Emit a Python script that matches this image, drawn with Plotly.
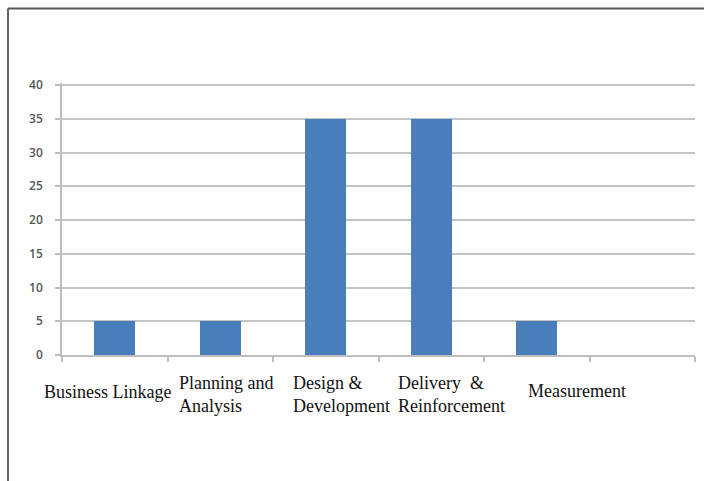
import plotly.graph_objects as go

categories = ["Business Linkage", "Planning and Analysis", "Design & Development",
              "Delivery & Reinforcement", "Measurement", " "]
values = [5, 5, 35, 35, 5]
label_texts = ["Business Linkage", "Planning and<br>Analysis", "Design &amp;<br>Development",
               "Delivery  &amp;<br>Reinforcement", "Measurement"]
label_xshifts = [-73, -43, -35, -35, -11]
label_yshifts = [-25, -16, -16, -16, -24]
y_ticks = [0, 5, 10, 15, 20, 25, 30, 35, 40]

W, H = 704, 481
L, R, T, B = 62, 9, 83, 126

fig = go.Figure()
fig.add_trace(go.Bar(x=categories[:5], y=values, marker=dict(color="#4a7ebb", line=dict(width=0)),
                     width=0.39))

for cat, txt, sx, sy in zip(categories, label_texts, label_xshifts, label_yshifts):
    fig.add_annotation(x=cat, y=0, xref="x", yref="y", text=txt, showarrow=False,
                       xanchor="left", yanchor="top", align="left", xshift=sx, yshift=sy,
                       font=dict(family="Liberation Serif", size=18, color="#111"))

pw, ph = W - L - R, H - T - B
bx = (8 - L) / pw
ty = 1 + (T - 8.5) / ph
fig.add_shape(type="line", xref="paper", yref="paper", x0=bx, x1=(W + 5 - L) / pw, y0=ty, y1=ty,
              line=dict(color="#555", width=1.8))
fig.add_shape(type="line", xref="paper", yref="paper", x0=bx, x1=bx, y0=ty, y1=-(B + 5) / ph,
              line=dict(color="#555", width=1.8))

fig.update_layout(
    width=W, height=H, margin=dict(l=L, r=R, t=T, b=B),
    paper_bgcolor="white", plot_bgcolor="white", showlegend=False, bargap=0,
    xaxis=dict(type="category", categoryorder="array", categoryarray=categories,
               range=[-0.5, 5.5], showticklabels=False, tickson="boundaries",
               ticks="outside", ticklen=5, tickcolor="#bdbdbd", tickwidth=1.5,
               showgrid=False, showline=True, linecolor="#bdbdbd", linewidth=1.5, zeroline=False),
    yaxis=dict(range=[0, 40.3], tickvals=y_ticks, ticks="outside", ticklen=5, tickcolor="#bdbdbd",
               tickwidth=1.5, showgrid=True, gridcolor="#c4c4c4", gridwidth=1.5,
               showline=True, linecolor="#bdbdbd", linewidth=1.5, zeroline=False,
               tickfont=dict(family="Open Sans", size=12, color="#555", weight=600),
               ticklabelstandoff=10),
)
fig.write_html("out.html")
